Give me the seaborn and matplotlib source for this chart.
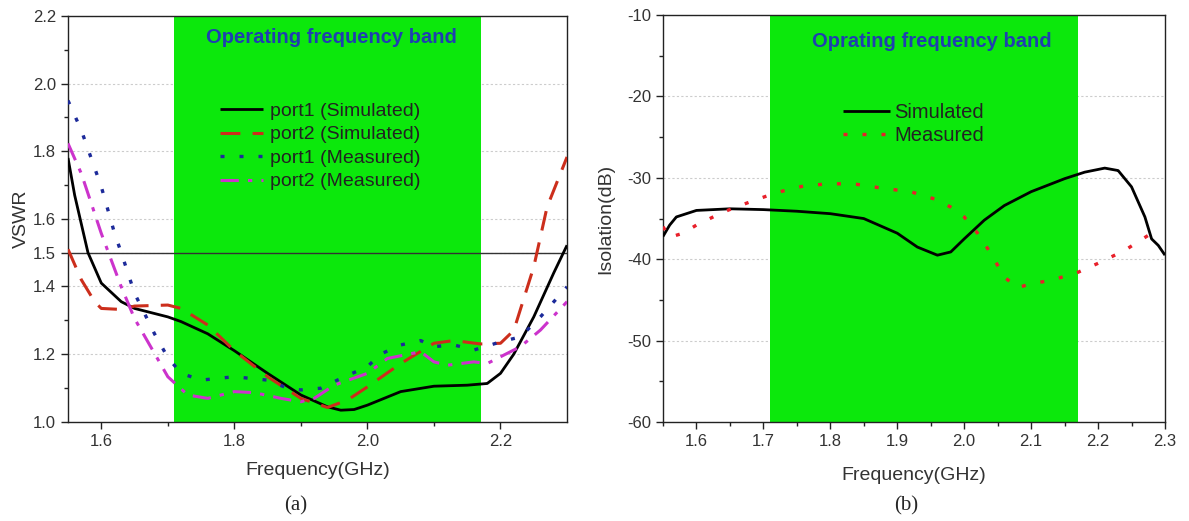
import numpy as np
import pandas as pd
import matplotlib
matplotlib.use("Agg")
import matplotlib.pyplot as plt
from matplotlib.ticker import MultipleLocator, FixedLocator
import seaborn as sns

# ---------------- data: panel (a) VSWR ----------------
p1s_x = [1.55, 1.56, 1.58, 1.60, 1.63, 1.65, 1.70, 1.72, 1.76, 1.80, 1.85, 1.90, 1.94, 1.96, 1.98, 2.00,
         2.05, 2.10, 2.15, 2.18, 2.20, 2.22, 2.25, 2.28, 2.30]
p1s_y = [1.78, 1.67, 1.50, 1.41, 1.355, 1.335, 1.31, 1.296, 1.26, 1.21, 1.143, 1.079, 1.044, 1.034, 1.036, 1.049,
         1.089, 1.105, 1.108, 1.113, 1.143, 1.20, 1.31, 1.44, 1.522]

p2s_x = [1.55, 1.57, 1.59, 1.60, 1.63, 1.65, 1.70, 1.72, 1.76, 1.80, 1.85, 1.90, 1.94, 1.97, 2.00, 2.05,
         2.10, 2.13, 2.17, 2.20, 2.22, 2.25, 2.27, 2.30]
p2s_y = [1.51, 1.42, 1.355, 1.335, 1.332, 1.342, 1.345, 1.335, 1.286, 1.21, 1.133, 1.069, 1.042, 1.064, 1.103, 1.172,
         1.232, 1.24, 1.23, 1.232, 1.27, 1.458, 1.635, 1.783]

p1m_x = [1.55, 1.57, 1.60, 1.62, 1.63, 1.65, 1.68, 1.70, 1.72, 1.75, 1.80, 1.85, 1.88, 1.90, 1.93, 1.96,
         2.00, 2.02, 2.05, 2.08, 2.10, 2.13, 2.16, 2.20, 2.23, 2.26, 2.30]
p1m_y = [1.95, 1.862, 1.695, 1.557, 1.50, 1.38, 1.26, 1.19, 1.143, 1.123, 1.133, 1.123, 1.099, 1.094, 1.099, 1.128,
         1.163, 1.20, 1.227, 1.24, 1.222, 1.227, 1.212, 1.236, 1.251, 1.31, 1.399]

p2m_x = [1.55, 1.57, 1.60, 1.63, 1.65, 1.68, 1.70, 1.73, 1.76, 1.80, 1.83, 1.87, 1.90, 1.92, 1.95, 2.00,
         2.03, 2.08, 2.10, 2.12, 2.16, 2.18, 2.20, 2.23, 2.26, 2.30]
p2m_y = [1.823, 1.734, 1.557, 1.399, 1.305, 1.202, 1.133, 1.079, 1.069, 1.089, 1.086, 1.069, 1.059, 1.069, 1.108, 1.143,
         1.187, 1.207, 1.177, 1.167, 1.177, 1.172, 1.192, 1.222, 1.271, 1.355]

# ---------------- data: panel (b) isolation ----------------
sim_x = [1.55, 1.56, 1.57, 1.60, 1.65, 1.70, 1.75, 1.80, 1.85, 1.90, 1.93, 1.96, 1.98, 2.00, 2.03, 2.06, 2.10,
         2.15, 2.18, 2.21, 2.23, 2.25, 2.27, 2.28, 2.29, 2.30]
sim_y = [-37.2, -35.8, -34.8, -34.0, -33.8, -33.9, -34.1, -34.4, -35.0, -36.8, -38.5, -39.5, -39.1, -37.5, -35.2, -33.4, -31.7,
         -30.1, -29.3, -28.8, -29.1, -31.1, -34.8, -37.5, -38.3, -39.5]

mea_x = [1.55, 1.56, 1.58, 1.60, 1.64, 1.68, 1.72, 1.76, 1.80, 1.84, 1.88, 1.92, 1.96, 1.98, 2.00, 2.02,
         2.04, 2.06, 2.08, 2.10, 2.13, 2.17, 2.20, 2.24, 2.28, 2.29]
mea_y = [-36.0, -37.3, -36.8, -35.8, -34.2, -32.95, -31.8, -31.0, -30.7, -30.8, -31.3, -31.7, -32.7, -33.6, -34.8, -36.8,
         -39.3, -42.2, -43.5, -43.0, -42.6, -41.6, -40.5, -38.9, -36.8, -36.2]

band = (1.71, 2.17)
vswr_ref = 1.5

a_labels = ["port1 (Simulated)", "port2 (Simulated)", "port1 (Measured)", "port2 (Measured)"]
b_labels = ["Simulated", "Measured"]

df_a = pd.concat([
    pd.DataFrame({"f": p1s_x, "v": p1s_y, "s": a_labels[0]}),
    pd.DataFrame({"f": p2s_x, "v": p2s_y, "s": a_labels[1]}),
    pd.DataFrame({"f": p1m_x, "v": p1m_y, "s": a_labels[2]}),
    pd.DataFrame({"f": p2m_x, "v": p2m_y, "s": a_labels[3]}),
], ignore_index=True)
df_b = pd.concat([
    pd.DataFrame({"f": sim_x, "v": sim_y, "s": b_labels[0]}),
    pd.DataFrame({"f": mea_x, "v": mea_y, "s": b_labels[1]}),
], ignore_index=True)

sns.set_style("ticks")
plt.rcParams["font.family"] = ["Liberation Sans", "DejaVu Sans"]

fig = plt.figure(figsize=(11.89, 5.21), dpi=100)
ax1 = fig.add_axes([0.0572, 0.1906, 0.4197, 0.7787])
ax2 = fig.add_axes([0.5576, 0.1900, 0.4222, 0.7810])

green = "#0ce80c"
title_blue = "#1f3fb0"

def style_axes(ax):
    for s in ax.spines.values():
        s.set_color("#222222")
        s.set_linewidth(1.0)
    ax.tick_params(which="both", direction="out", top=False, right=False, colors="#222222",
                   labelsize=12, labelcolor="#333333")
    ax.tick_params(which="major", length=5, width=1)
    ax.tick_params(which="minor", length=3, width=1)

# ----- panel a -----
ax1.axvspan(band[0], band[1], color=green, zorder=1, lw=0)
ax1.set_axisbelow(True)
ax1.grid(axis="y", which="major", ls=(0, (2, 2)), color="#cccccc", lw=0.8, zorder=0)
sns.lineplot(data=df_a, x="f", y="v", hue="s", style="s", hue_order=a_labels, style_order=a_labels,
             palette=["#000000", "#cc2e1c", "#1c2a9a", "#cc33cc"],
             dashes=[(1, 0), (6.5, 4), (1.2, 4.5), (6, 3, 1.4, 3)],
             size="s", sizes={a_labels[0]: 2.0, a_labels[1]: 2.2, a_labels[2]: 2.4, a_labels[3]: 2.2},
             ax=ax1, zorder=3, estimator=None, sort=True)
ax1.axhline(vswr_ref, color="#333333", lw=1.0, zorder=2)
ax1.set_xlim(1.55, 2.3)
ax1.set_ylim(1.0, 2.2)
ax1.xaxis.set_major_locator(FixedLocator([1.6, 1.8, 2.0, 2.2]))
ax1.xaxis.set_minor_locator(FixedLocator([1.7, 1.9, 2.1]))
ax1.yaxis.set_major_locator(FixedLocator([1.0, 1.2, 1.4, 1.5, 1.6, 1.8, 2.0, 2.2]))
ax1.yaxis.set_minor_locator(FixedLocator([1.1, 1.3, 1.7, 1.9, 2.1]))
ax1.set_yticklabels(["1.0", "1.2", "1.4", "1.5", "1.6", "1.8", "2.0", "2.2"])
ax1.set_xticklabels(["1.6", "1.8", "2.0", "2.2"])
ax1.set_xlabel("Frequency(GHz)", fontsize=14, color="#333333", labelpad=10)
ax1.set_ylabel("VSWR", fontsize=14, color="#333333", labelpad=2)
style_axes(ax1)
ax1.text(1.946, 2.135, "Operating frequency band", color=title_blue, fontsize=14.5, fontweight="bold",
         ha="center", va="center", zorder=4)
h, l = ax1.get_legend_handles_labels()
leg1 = ax1.legend(h, l, loc="upper left", bbox_to_anchor=(0.305, 0.787), frameon=False, fontsize=14,
                  handlelength=2.2, handletextpad=0.35, labelspacing=0.3, borderaxespad=0, borderpad=0)
for t in leg1.get_texts():
    t.set_color("#222222")

# ----- panel b -----
ax2.axvspan(band[0], band[1], color=green, zorder=1, lw=0)
ax2.set_axisbelow(True)
ax2.grid(axis="y", which="major", ls=(0, (2, 2)), color="#cccccc", lw=0.8, zorder=0)
sns.lineplot(data=df_b, x="f", y="v", hue="s", style="s", hue_order=b_labels, style_order=b_labels,
             palette=["#000000", "#e8202a"], dashes=[(1, 0), (1.2, 4.5)],
             size="s", sizes={b_labels[0]: 2.0, b_labels[1]: 2.4},
             ax=ax2, zorder=3, estimator=None, sort=True)
ax2.set_xlim(1.55, 2.3)
ax2.set_ylim(-60, -10)
ax2.xaxis.set_major_locator(MultipleLocator(0.1))
ax2.xaxis.set_minor_locator(MultipleLocator(0.05))
ax2.yaxis.set_major_locator(MultipleLocator(10))
ax2.yaxis.set_minor_locator(MultipleLocator(5))
ax2.xaxis.set_major_formatter(matplotlib.ticker.FormatStrFormatter("%.1f"))
ax2.yaxis.set_major_formatter(matplotlib.ticker.FormatStrFormatter("%d"))
ax2.set_xlabel("Frequency(GHz)", fontsize=14, color="#333333", labelpad=13)
ax2.set_ylabel("Isolation(dB)", fontsize=14, color="#333333", labelpad=9)
style_axes(ax2)
ax2.text(1.952, -13.2, "Oprating frequency band", color=title_blue, fontsize=14.5, fontweight="bold",
         ha="center", va="center", zorder=4)
h, l = ax2.get_legend_handles_labels()
leg2 = ax2.legend(h, l, loc="upper left", bbox_to_anchor=(0.359, 0.785), frameon=False, fontsize=14.5,
                  handlelength=2.3, handletextpad=0.25, labelspacing=0.2, borderaxespad=0, borderpad=0)
for t in leg2.get_texts():
    t.set_color("#222222")

fig.text(0.249, 0.03, "(a)", fontsize=15, family=["Liberation Serif", "DejaVu Serif"], ha="center", va="center")
fig.text(0.762, 0.03, "(b)", fontsize=15, family=["Liberation Serif", "DejaVu Serif"], ha="center", va="center")

fig.savefig("out.png", dpi=100)
